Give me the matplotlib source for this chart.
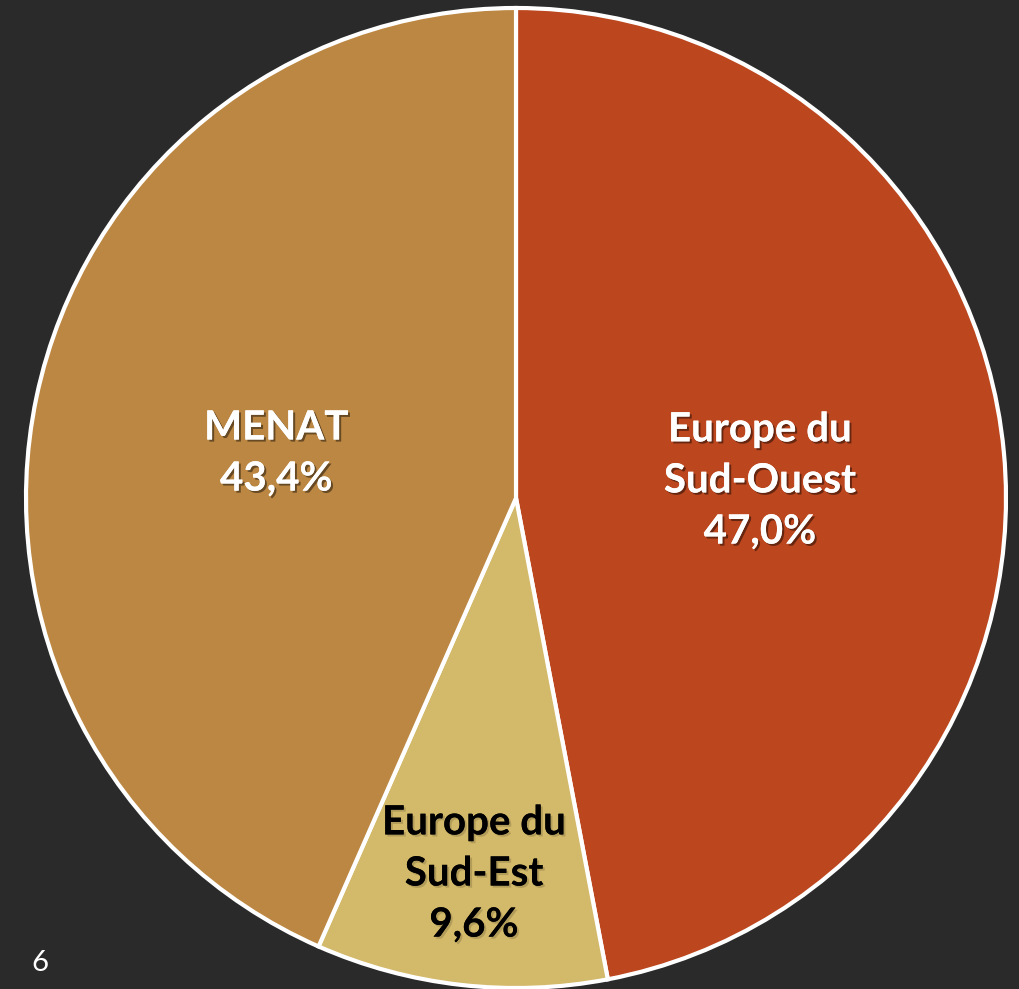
import numpy as np
import matplotlib.pyplot as plt
import matplotlib.patheffects as pe

# parts of the pie (in %), clockwise from the top
regions = ['Europe du\nSud-Ouest', 'Europe du\nSud-Est', 'MENAT']
shares = [47.0, 9.6, 43.4]
colors = ['#BC461E', '#D3B96A', '#BC8742']
text_colors = ['white', 'black', 'white']
label_dist = [0.5, 0.76, 0.5]

fig = plt.figure(figsize=(10.2, 9.89), dpi=100)
fig.patch.set_facecolor('#2a2a2b')
ax = fig.add_axes([0, 0, 1, 1])
ax.set_facecolor('#2a2a2b')

cx, cy, r = 516, 491, 490
wedges, _ = ax.pie(shares, colors=colors, startangle=90, counterclock=False,
                   center=(cx, cy), radius=r,
                   wedgeprops=dict(edgecolor='white', linewidth=3))

for w, name, val, tc, d in zip(wedges, regions, shares, text_colors, label_dist):
    mid = np.deg2rad((w.theta1 + w.theta2) / 2)
    x = cx + d * r * np.cos(mid)
    y = cy + d * r * np.sin(mid) - 6
    label = name + '\n' + f'{val:.1f}'.replace('.', ',') + '%'
    shadow = 'black' if tc == 'white' else '#8a7a45'
    ax.text(x, y, label, ha='center', va='center', color=tc, fontsize=29,
            fontweight='bold', family='Lato', linespacing=1.47,
            path_effects=[pe.withSimplePatchShadow(offset=(1.5, -1.5), shadow_rgbFace=shadow, alpha=0.45),
                          pe.Normal()])

ax.text(40, 26, '6', ha='center', va='center', color='white', fontsize=21, family='Lato')

ax.set_xlim(0, 1020)
ax.set_ylim(0, 989)
ax.set_aspect('equal')
ax.axis('off')

plt.savefig('out.png', dpi=100, facecolor=fig.get_facecolor())
